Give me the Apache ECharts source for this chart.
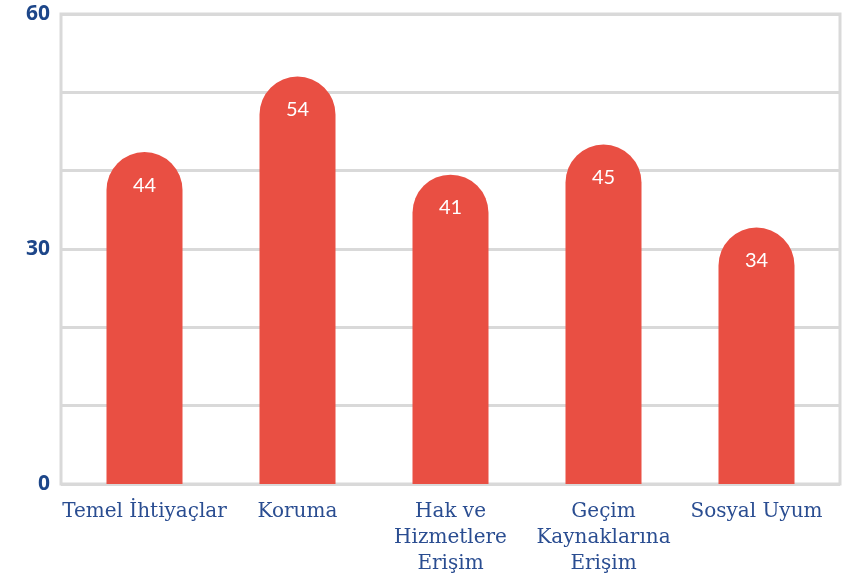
<!DOCTYPE html>
<html>
<head>
<meta charset="utf-8">
<script src="https://cdn.jsdelivr.net/npm/echarts@6/dist/echarts.min.js"></script>
<style>
  html, body { margin: 0; padding: 0; background: #fff; }
  #chart { width: 854px; height: 573px; }
</style>
</head>
<body>
<div id="chart"></div>
<script>
// kategoriler ve değerler
const categories = ['Temel İhtiyaçlar', 'Koruma', 'Hak ve\nHizmetlere\nErişim', 'Geçim\nKaynaklarına\nErişim', 'Sosyal Uyum'];
const values = [44, 54, 41, 45, 34];
// eksende yazısı görünen değerler
const yTickLabels = [0, 30, 60];

const chart = echarts.init(document.getElementById('chart'));

const option = {
  animation: false,
  grid: [
    // çerçeve + yatay çizgiler
    { left: 61, right: 14, top: 14, bottom: 89, outerBoundsMode: 'none', show: true, borderColor: '#d9d9d9', borderWidth: 3 },
    // çubuklar
    { left: 68, right: 21, top: 14, bottom: 89, outerBoundsMode: 'none' }
  ],
  xAxis: [
    { gridIndex: 0, type: 'value', show: false },
    {
      gridIndex: 1,
      type: 'category',
      data: categories,
      axisLine: { show: false },
      axisTick: { show: false },
      axisLabel: {
        color: '#2a4d91',
        fontFamily: 'DejaVu Serif',
        fontSize: 20,
        lineHeight: 26,
        margin: 15,
        interval: 0
      }
    }
  ],
  yAxis: [
    {
      gridIndex: 0,
      type: 'value',
      min: 0,
      max: 60,
      interval: 10,
      axisLine: { show: false },
      axisTick: { show: false },
      splitLine: { lineStyle: { color: '#d9d9d9', width: 3 } },
      axisLabel: {
        color: '#1d4689',
        fontFamily: 'Open Sans',
        fontWeight: 'bold',
        fontSize: 21,
        margin: 11,
        formatter: v => (yTickLabels.indexOf(v) >= 0 ? String(v) : '')
      }
    },
    { gridIndex: 1, type: 'value', min: 0, max: 62.3, show: false }
  ],
  series: [
    {
      type: 'bar',
      xAxisIndex: 1,
      yAxisIndex: 1,
      data: values,
      barWidth: 76,
      itemStyle: { color: '#e94f43', borderRadius: [38, 38, 0, 0] },
      label: {
        show: true,
        position: 'insideTop',
        distance: 23,
        color: '#fff',
        fontFamily: 'Lato',
        fontSize: 20
      }
    }
  ]
};

chart.setOption(option);
</script>
</body>
</html>
